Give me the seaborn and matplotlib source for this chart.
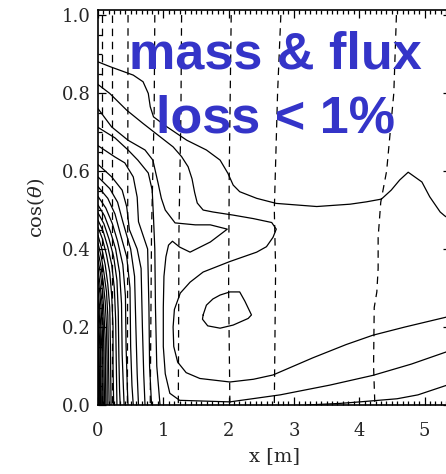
import numpy as np
import pandas as pd
import matplotlib
matplotlib.use("Agg")
import matplotlib.pyplot as plt
import seaborn as sns
from matplotlib.ticker import MultipleLocator

# ---- data (x [m], cos(theta)) ----
x_ticks = [0, 1, 2, 3, 4, 5]
y_ticks = [0.0, 0.2, 0.4, 0.6, 0.8, 1.0]
y_ticklabels = ["0.0", "0.2", "0.4", "0.6", "0.8", "1.0"]

# solid contours
c_top = [(0, 0.880), (0.18, 0.868), (0.54, 0.846), (0.69, 0.829), (0.77, 0.799), (0.80, 0.765),
         (0.85, 0.739), (1.05, 0.714), (1.36, 0.679), (1.66, 0.654), (1.87, 0.628), (1.99, 0.594),
         (2.07, 0.564), (2.17, 0.547), (2.43, 0.530), (2.73, 0.517), (3.35, 0.509), (3.86, 0.515),
         (4.11, 0.521), (4.34, 0.528), (4.49, 0.551), (4.62, 0.577), (4.75, 0.597), (4.96, 0.572),
         (5.08, 0.534), (5.24, 0.495), (5.31, 0.485), (5.40, 0.475)]
c_u = [(0, 0.822), (0.18, 0.799), (0.44, 0.756), (0.69, 0.722), (0.95, 0.688), (1.15, 0.662),
       (1.28, 0.637), (1.38, 0.611), (1.44, 0.580), (1.48, 0.545), (1.52, 0.518), (1.61, 0.500),
       (1.76, 0.495), (2.07, 0.487), (2.38, 0.478), (2.66, 0.468), (2.73, 0.451), (2.68, 0.430),
       (2.58, 0.406), (2.43, 0.392), (2.02, 0.368), (1.61, 0.341), (1.41, 0.315), (1.26, 0.287),
       (1.17, 0.245), (1.15, 0.200), (1.16, 0.150), (1.22, 0.110), (1.35, 0.083), (1.56, 0.068),
       (2.02, 0.059), (2.38, 0.066), (2.68, 0.077), (3.29, 0.121), (3.80, 0.155), (4.21, 0.179),
       (4.70, 0.200), (5.40, 0.228)]
c_tongue = [(0, 0.760), (0.21, 0.713), (0.46, 0.679), (0.72, 0.654), (0.84, 0.628), (0.92, 0.569),
            (0.97, 0.530), (1.03, 0.500), (1.18, 0.467), (1.49, 0.462), (1.72, 0.462), (1.98, 0.451),
            (1.72, 0.418), (1.41, 0.392), (1.25, 0.405), (1.14, 0.420), (1.08, 0.410), (1.04, 0.380),
            (1.01, 0.330), (1.00, 0.250), (1.00, 0.150), (1.03, 0.080), (1.10, 0.030), (1.25, 0.012),
            (2.02, 0.008), (2.79, 0.026), (3.55, 0.051), (4.21, 0.076), (4.80, 0.105), (5.40, 0.140)]
c_low = [(3.20, 0.0), (3.70, 0.004), (4.01, 0.008), (4.58, 0.016), (4.90, 0.026), (5.40, 0.054)]
c_eye = [(1.61, 0.231), (1.66, 0.256), (1.76, 0.272), (1.87, 0.282), (2.02, 0.290), (2.17, 0.290),
         (2.25, 0.266), (2.35, 0.231), (2.30, 0.222), (2.07, 0.205), (1.87, 0.197), (1.68, 0.203),
         (1.60, 0.220), (1.61, 0.231)]

# dense contours near the left edge: start on left edge, end on bottom edge
dense_lines = [
    [(0, 0.712), (0.26, 0.685), (0.46, 0.654), (0.61, 0.628), (0.77, 0.595), (0.83, 0.551),
     (0.85, 0.480), (0.87, 0.400), (0.88, 0.250), (0.90, 0.100), (0.95, 0.0)],
    [(0, 0.665), (0.26, 0.636), (0.41, 0.621), (0.54, 0.585), (0.60, 0.533), (0.62, 0.470),
     (0.70, 0.430), (0.76, 0.400), (0.78, 0.250), (0.79, 0.100), (0.82, 0.0)],
    [(0, 0.617), (0.21, 0.585), (0.37, 0.551), (0.44, 0.508), (0.48, 0.450), (0.60, 0.400),
     (0.66, 0.350), (0.68, 0.200), (0.70, 0.080), (0.72, 0.0)],
    [(0, 0.585), (0.18, 0.555), (0.30, 0.520), (0.38, 0.470), (0.50, 0.400), (0.56, 0.330),
     (0.58, 0.200), (0.60, 0.080), (0.62, 0.0)],
    [(0, 0.560), (0.15, 0.530), (0.26, 0.490), (0.34, 0.440), (0.44, 0.380), (0.49, 0.300),
     (0.50, 0.150), (0.52, 0.050), (0.54, 0.0)],
    [(0, 0.535), (0.12, 0.505), (0.22, 0.465), (0.30, 0.420), (0.38, 0.360), (0.42, 0.280),
     (0.43, 0.150), (0.45, 0.040), (0.46, 0.0)],
    [(0, 0.513), (0.10, 0.485), (0.19, 0.445), (0.27, 0.400), (0.33, 0.340), (0.36, 0.260),
     (0.37, 0.130), (0.39, 0.040), (0.40, 0.0)],
    [(0, 0.493), (0.09, 0.465), (0.17, 0.425), (0.24, 0.380), (0.29, 0.320), (0.31, 0.240),
     (0.32, 0.120), (0.33, 0.040), (0.34, 0.0)],
    [(0, 0.474), (0.08, 0.445), (0.15, 0.405), (0.21, 0.360), (0.25, 0.300), (0.27, 0.220),
     (0.28, 0.110), (0.29, 0.0)],
    [(0, 0.456), (0.07, 0.425), (0.13, 0.385), (0.18, 0.340), (0.21, 0.280), (0.23, 0.200),
     (0.23, 0.100), (0.24, 0.0)],
    [(0, 0.435), (0.06, 0.400), (0.11, 0.360), (0.15, 0.310), (0.18, 0.250), (0.19, 0.150),
     (0.20, 0.0)],
    [(0, 0.415), (0.05, 0.380), (0.09, 0.340), (0.13, 0.290), (0.15, 0.230), (0.16, 0.130),
     (0.17, 0.0)],
    [(0, 0.395), (0.04, 0.360), (0.08, 0.315), (0.11, 0.265), (0.13, 0.200), (0.14, 0.100),
     (0.14, 0.0)],
    [(0, 0.372), (0.04, 0.335), (0.07, 0.290), (0.09, 0.240), (0.11, 0.170), (0.12, 0.0)],
    [(0, 0.350), (0.03, 0.310), (0.06, 0.265), (0.08, 0.210), (0.09, 0.140), (0.10, 0.0)],
    [(0, 0.325), (0.03, 0.285), (0.05, 0.240), (0.07, 0.180), (0.08, 0.0)],
    [(0, 0.300), (0.02, 0.260), (0.04, 0.210), (0.06, 0.140), (0.065, 0.0)],
    [(0, 0.270), (0.02, 0.230), (0.035, 0.180), (0.05, 0.0)],
    [(0, 0.240), (0.015, 0.200), (0.03, 0.140), (0.04, 0.0)],
    [(0, 0.205), (0.012, 0.160), (0.03, 0.0)],
    [(0, 0.170), (0.01, 0.120), (0.02, 0.0)],
    [(0, 0.130), (0.012, 0.0)],
]

# dashed contours (nearly vertical)
dashed_lines = [
    [(0.06, 1.0), (0.06, 0.0)],
    [(0.21, 1.0), (0.21, 0.0)],
    [(0.46, 1.0), (0.45, 0.0)],
    [(0.87, 1.0), (0.86, 0.75), (0.82, 0.45), (0.80, 0.0)],
    [(1.28, 1.0), (1.27, 0.75), (1.24, 0.45), (1.23, 0.0)],
    [(2.04, 1.0), (2.01, 0.60), (2.00, 0.30), (2.02, 0.0)],
    [(2.80, 1.0), (2.75, 0.80), (2.70, 0.50), (2.72, 0.35), (2.70, 0.0)],
    [(4.57, 1.0), (4.53, 0.80), (4.42, 0.60), (4.33, 0.52), (4.29, 0.43), (4.29, 0.35),
     (4.27, 0.29), (4.23, 0.25), (4.22, 0.10), (4.24, 0.0)],
]

annotation = ["mass & flux", "loss < 1%"]
text_color = "#3434c8"

# ---- figure ----
sns.set_style("ticks")
plt.rcParams["font.family"] = ["DejaVu Serif"]
plt.rcParams["mathtext.fontset"] = "dejavuserif"

W, H = 446, 474
fig = plt.figure(figsize=(W / 100, H / 100), dpi=100)
x0, xr = 98, 65.3 * 5.4
ax = fig.add_axes([x0 / W, (474 - 405) / H, xr / W, 395 / H])


def draw(pts, **kw):
    df = pd.DataFrame(pts, columns=["x", "y"])
    sns.lineplot(data=df, x="x", y="y", sort=False, estimator=None, ax=ax,
                 color="black", **kw)


for pts in [c_top, c_u, c_tongue, c_low, c_eye] + dense_lines:
    draw(pts, linewidth=0.9)
for pts in dashed_lines:
    draw(pts, linewidth=0.9, linestyle=(0, (6, 4.5)))

ax.set_xlim(0, 5.4)
ax.set_ylim(0, 1.013)
ax.set_xticks(x_ticks)
ax.set_yticks(y_ticks)
ax.set_yticklabels(y_ticklabels)
ax.xaxis.set_minor_locator(MultipleLocator(1 / 12))
ax.yaxis.set_minor_locator(MultipleLocator(0.05))
ax.tick_params(which="both", direction="in", top=True, right=True, color="black", width=0.9)
ax.tick_params(which="major", length=6)
ax.tick_params(which="minor", length=3)
ax.tick_params(axis="x", labelsize=13, pad=12)
ax.tick_params(axis="y", labelsize=13, pad=5)
for s in ax.spines.values():
    s.set_linewidth(1.2)
    s.set_color("black")

ax.set_xlabel("x [m]", fontsize=14, labelpad=5)
ax.set_ylabel(r"cos($\theta$)", fontsize=14, labelpad=11)

ax.text(2.72, 0.862, annotation[0], ha="center", va="baseline", fontsize=37.5,
        fontweight="bold", color=text_color, family=["Liberation Sans", "DejaVu Sans"])
ax.text(2.72, 0.700, annotation[1], ha="center", va="baseline", fontsize=37.5,
        fontweight="bold", color=text_color, family=["Liberation Sans", "DejaVu Sans"])

fig.savefig("out.png", dpi=100)
